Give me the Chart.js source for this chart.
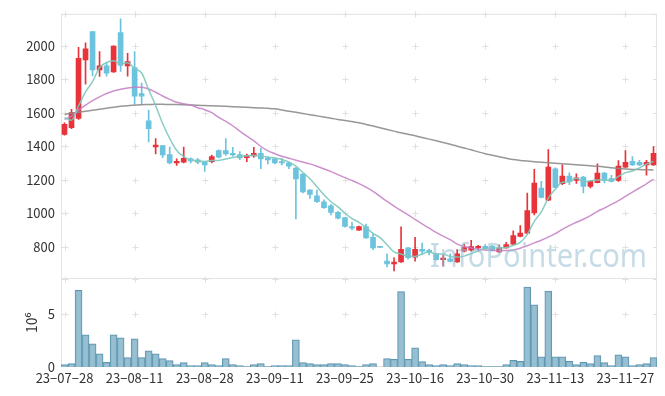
<!DOCTYPE html>
<html><head><meta charset="utf-8">
<script src="https://cdn.jsdelivr.net/npm/chart.js@4"></script>
<style>html,body{margin:0;padding:0;background:#fff}canvas{display:block}</style>
</head><body>
<canvas id="c" width="665" height="396"></canvas>
<script>
const dates = ["23-07-28","23-07-31","23-08-01","23-08-02","23-08-03","23-08-04","23-08-07","23-08-08","23-08-09","23-08-10",
"23-08-11","23-08-14","23-08-16","23-08-17","23-08-18","23-08-21","23-08-22","23-08-23","23-08-24","23-08-25",
"23-08-28","23-08-29","23-08-30","23-08-31","23-09-01","23-09-04","23-09-05","23-09-06","23-09-07","23-09-08",
"23-09-11","23-09-12","23-09-13","23-09-14","23-09-15","23-09-18","23-09-19","23-09-20","23-09-21","23-09-22",
"23-09-25","23-09-26","23-09-27","23-10-04","23-10-05","23-10-06","23-10-10","23-10-11","23-10-12","23-10-13",
"23-10-16","23-10-17","23-10-18","23-10-19","23-10-20","23-10-23","23-10-24","23-10-25","23-10-26","23-10-27",
"23-10-30","23-10-31","23-11-01","23-11-02","23-11-03","23-11-06","23-11-07","23-11-08","23-11-09","23-11-10",
"23-11-13","23-11-14","23-11-15","23-11-16","23-11-17","23-11-20","23-11-21","23-11-22","23-11-23","23-11-24",
"23-11-27","23-11-28","23-11-29","23-11-30","23-12-01"];

const opens = [1470,1510,1566,1915,2085,1856,1880,1844,2079,1880,1870,1714,1551,1395,1403,1350,1300,1304,1324,1318,
1304,1308,1373,1373,1357,1350,1332,1341,1357,1330,1324,1308,1300,1269,1233,1137,1103,1068,1044,1004,
973,920,898,920,855,797,713,697,709,792,737,784,778,756,721,727,709,772,778,792,
802,802,768,792,815,861,880,1001,1150,1078,1265,1176,1221,1196,1215,1160,1182,1239,1206,1196,
1275,1310,1304,1288,1288];
const highs = [1540,1620,1990,2018,2085,1965,1895,2000,2161,1955,1965,1777,1616,1446,1405,1395,1324,1395,1330,1328,
1310,1347,1378,1446,1393,1367,1352,1393,1387,1335,1330,1328,1305,1272,1236,1140,1137,1080,1052,1010,
975,945,922,934,875,798,756,733,918,795,855,821,785,760,749,756,782,815,837,808,
812,806,811,825,894,926,1120,1261,1190,1379,1270,1288,1241,1235,1220,1195,1294,1242,1225,1314,
1373,1338,1315,1315,1398];
const lows = [1465,1505,1560,1771,1820,1817,1818,1840,1846,1818,1649,1649,1425,1353,1332,1294,1285,1300,1300,1294,
1249,1300,1330,1344,1340,1320,1308,1334,1265,1294,1294,1288,1265,965,1120,1087,1064,1028,989,965,
916,900,896,848,782,793,678,654,705,725,713,753,750,718,684,708,705,768,772,772,
785,772,765,790,812,858,876,989,1090,1075,1150,1170,1170,1178,1121,1150,1180,1180,1186,1190,
1270,1285,1283,1226,1285];
const closes = [1530,1600,1925,1982,1856,1880,1836,1998,1882,1905,1699,1699,1505,1406,1347,1300,1310,1328,1312,1304,
1288,1338,1334,1353,1347,1330,1344,1357,1324,1318,1300,1300,1281,1205,1127,1111,1068,1032,1004,969,
920,910,920,851,792,795,697,707,784,733,784,772,766,721,731,711,756,796,800,802,
788,776,792,812,866,880,1015,1180,1093,1275,1154,1221,1190,1211,1160,1190,1239,1196,1190,1281,
1304,1288,1288,1304,1357];
// volume in millions of shares
const volumes = [0.22,0.32,7.25,3.04,2.19,1.25,0.44,3.04,2.76,0.88,2.66,0.88,1.53,1.25,0.79,0.60,0.22,0.41,0.13,0.13,
0.41,0.22,0.13,0.79,0.22,0.13,0.05,0.22,0.32,0.05,0.13,0.13,0.13,2.57,0.41,0.32,0.22,0.22,0.32,0.32,
0.22,0.13,0.05,0.22,0.32,0,0.79,0.73,7.12,0.73,1.82,0.51,0.22,0.13,0.22,0.13,0.32,0.22,0.13,0.13,
0.05,0.05,0.05,0.22,0.63,0.53,7.56,5.88,0.97,7.16,0.97,0.97,0.53,0.22,0.44,0.32,1.07,0.41,0.13,1.16,
0.97,0.13,0.22,0.32,0.88];
const ma5 = [1570,1555,1640,1725,1785,1870,1900,1910,1892,1898,1864,1837,1738,1642,1535,1446,1374,1338,1319,1311,
1308,1314,1315,1323,1332,1340,1342,1346,1340,1335,1329,1320,1305,1281,1243,1205,1158,1109,1068,1037,
999,967,945,914,879,853,811,768,755,743,741,756,768,755,755,740,737,743,759,773,
788,792,792,794,807,825,873,951,1007,1089,1143,1185,1187,1210,1187,1194,1198,1199,1195,1219,
1242,1252,1270,1293,1308];
const ma20 = [1560,1580,1615,1645,1672,1695,1715,1730,1740,1748,1752,1752,1742,1722,1700,1680,1662,1653,1646,1630,
1618,1600,1572,1548,1522,1490,1460,1432,1398,1372,1355,1340,1328,1316,1305,1294,1280,1264,1248,1230,
1212,1195,1176,1155,1130,1100,1070,1042,1015,990,962,935,910,885,862,841,815,800,792,784,
780,778,776,776,780,790,805,822,838,857,877,903,925,945,963,985,1010,1030,1052,1075,
1100,1125,1150,1175,1203];
const ma60 = [1590,1597,1603,1609,1615,1621,1627,1633,1638,1642,1645,1648,1649,1650,1650,1649,1649,1648,1646,1644,
1643,1641,1640,1638,1636,1634,1632,1630,1628,1626,1623,1616,1609,1602,1595,1588,1581,1574,1567,1560,
1554,1547,1540,1530,1520,1510,1500,1490,1480,1471,1462,1452,1442,1432,1422,1412,1400,1389,1378,1366,
1355,1346,1337,1328,1320,1315,1311,1307,1304,1301,1298,1295,1292,1289,1286,1283,1280,1276,1271,1266,
1263,1261,1260,1259,1258];
const priceTicks = [800,1000,1200,1400,1600,1800,2000];
const volTicks = [0,5];
const volTitle = "10\u2076";
const watermark = "InfoPointer.com";

const UP = '#e8333b', DOWN = '#6cc3dd';
const candleColors = closes.map((c,i)=> c >= opens[i] ? UP : DOWN);
const FONT = "'Noto Sans CJK KR','Noto Sans',sans-serif";

const decor = {
  id:'decor',
  beforeDatasetsDraw(chart){
    const {ctx, chartArea:a, scales} = chart;
    const x = scales.x, y = scales.y, yv = scales.yv;
    ctx.save();
    ctx.strokeStyle = '#e3e3e3'; ctx.lineWidth = 1;
    ctx.strokeRect(a.left+0.5, a.top+0.5, a.right-a.left-1, a.bottom-a.top-1);
    const sep = Math.round(y.bottom)-0.5;
    ctx.beginPath(); ctx.moveTo(a.left, sep); ctx.lineTo(a.right, sep); ctx.stroke();
    ctx.strokeStyle = '#e0e0e0';
    const ys = priceTicks.map(v=>y.getPixelForValue(v)).concat([y.top, y.bottom, yv.getPixelForValue(5)]);
    const xs = x.ticks.map((t,k)=>x.getPixelForTick(k));
    ctx.beginPath();
    for (const px0 of xs) for (const py0 of ys) {
      const px = Math.round(px0)+0.5, py = Math.round(py0)+0.5;
      ctx.moveTo(px-3, py); ctx.lineTo(px+3, py);
      ctx.moveTo(px, py-3); ctx.lineTo(px, py+3);
    }
    for (const py0 of ys) {
      const py = Math.round(py0)+0.5;
      ctx.moveTo(a.right-4, py); ctx.lineTo(a.right, py);
      ctx.moveTo(a.left, py); ctx.lineTo(a.left+3, py);
    }
    ctx.stroke();
    ctx.restore();
  },
  afterDatasetsDraw(chart){
    const {ctx} = chart;
    ctx.save();
    ctx.font = "33px 'Noto Sans','DejaVu Sans',sans-serif";
    ctx.fillStyle = 'rgba(150,190,210,0.55)';
    ctx.textBaseline = 'alphabetic';
    ctx.fillText(watermark, 430, 267, 217);
    ctx.restore();
  }
};

new Chart(document.getElementById('c'), {
  type:'bar',
  data:{
    labels: dates,
    datasets:[
      {type:'line', data:ma5, yAxisID:'y', borderColor:'rgba(125,200,190,0.9)', borderWidth:1.5, pointRadius:0, cubicInterpolationMode:'monotone', order:0},
      {type:'line', data:ma20, yAxisID:'y', borderColor:'rgba(196,125,196,0.85)', borderWidth:1.5, pointRadius:0, cubicInterpolationMode:'monotone', order:0},
      {type:'line', data:ma60, yAxisID:'y', borderColor:'rgba(140,140,140,0.9)', borderWidth:1.5, pointRadius:0, cubicInterpolationMode:'monotone', order:0},
      {data: opens.map((o,i)=>[o, closes[i]]), yAxisID:'y', backgroundColor:candleColors, borderWidth:0, barThickness:5, grouped:false, minBarLength:1, order:1},
      {data: lows.map((l,i)=>[l, highs[i]]), yAxisID:'y', backgroundColor:candleColors, borderWidth:0, barThickness:1, grouped:false, order:2},
      {data: volumes, yAxisID:'yv', backgroundColor:'rgba(140,184,204,0.9)', borderColor:'#5d96b0', borderWidth:1, barPercentage:1, categoryPercentage:1, grouped:false, order:3}
    ]
  },
  options:{
    animation:false, responsive:false, maintainAspectRatio:false, events:[],
    layout:{padding:{top:10,right:8,left:0,bottom:0}},
    plugins:{legend:{display:false}, tooltip:{enabled:false}},
    scales:{
      x:{type:'category', offset:true, grid:{display:false, drawTicks:false}, border:{display:false},
        ticks:{autoSkip:false, maxRotation:0, minRotation:0, padding:3, color:'#333', font:{family:FONT, size:13},
          callback(v){ return dates[v].replace(/-/g,'\u2212'); }},
        afterBuildTicks(s){ s.ticks = s.ticks.filter(t=>t.value%10===0); },
        afterFit(s){ s.height = 29; }},
      y:{position:'left', stack:'p', stackWeight:3, weight:1, min:608, max:2191,
        grid:{display:false, drawTicks:false}, border:{display:false},
        ticks:{padding:6, color:'#333', font:{family:FONT, size:13}, callback(v){ return String(v); }},
        afterBuildTicks(s){ s.ticks = priceTicks.map(v=>({value:v})); },
        afterFit(s){ s.width = 61; }},
      yv:{position:'left', stack:'p', stackWeight:1, weight:0, min:0, max:8.34,
        grid:{display:false, drawTicks:false}, border:{display:false},
        ticks:{padding:6, color:'#333', font:{family:FONT, size:13}, callback(v){ return String(v); }},
        title:{display:true, text:volTitle, color:'#333', font:{family:FONT, size:14}, padding:{top:23,bottom:0}},
        afterBuildTicks(s){ s.ticks = volTicks.map(v=>({value:v})); },
        afterFit(s){ s.width = 61; }}
    }
  },
  plugins:[decor]
});
</script>
</body></html>
